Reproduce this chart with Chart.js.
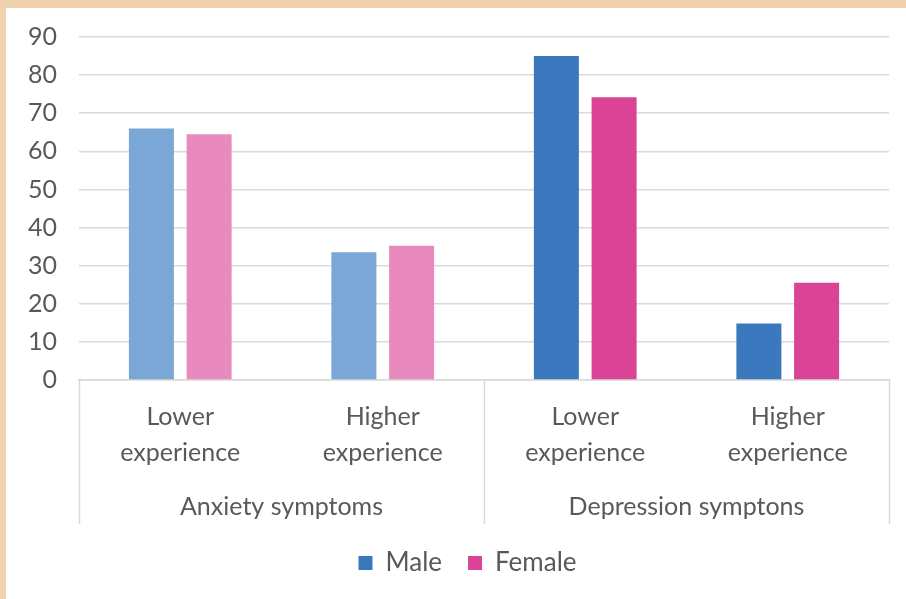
<!DOCTYPE html>
<html><head><meta charset="utf-8">
<script src="https://cdn.jsdelivr.net/npm/chart.js@4"></script>
<style>
html,body{margin:0;padding:0;background:#F0D2AE;width:906px;height:599px;overflow:hidden;}
#wrap{position:absolute;left:6px;top:8px;width:900px;height:591px;background:#fff;}
</style></head><body>
<div id="wrap"><canvas id="c" width="900" height="591"></canvas></div>
<script>
const categories = [["Lower","experience"],["Higher","experience"],["Lower","experience"],["Higher","experience"]];
const groups = ["Anxiety symptoms","Depression symptons"];
const seriesNames = ["Male","Female"];
const maleValues = [66, 33.5, 85, 14.8];
const femaleValues = [64.5, 35.2, 74.2, 25.5];
const yTicks = [0,10,20,30,40,50,60,70,80,90];

const maleColors = ["#7BA7D7","#7BA7D7","#3C78BD","#3C78BD"];
const femaleColors = ["#E88ABD","#E88ABD","#DB4496","#DB4496"];
const legendColors = ["#3C78BD","#DB4496"];
const FONT = "Lato, 'Open Sans', sans-serif";
const TXT = "#595959";

const separators = {
  id:'separators',
  afterDraw(chart){
    const x = chart.scales.x, x2 = chart.scales.x2, ctx = chart.ctx;
    const mid = (x.getPixelForValue(1)+x.getPixelForValue(2))/2;
    const top = chart.chartArea.bottom, bottom = x2.bottom;
    ctx.save();
    ctx.strokeStyle = "#D9D9D9"; ctx.lineWidth = 1.5;
    [x.left, mid, x.right].forEach(px=>{
      ctx.beginPath(); ctx.moveTo(Math.round(px)+0.5, top); ctx.lineTo(Math.round(px)+0.5, bottom); ctx.stroke();
    });
    ctx.restore();
  }
};

const legendShift = {
  id:'legendShift',
  afterLayout(chart){
    if (chart.legend) { chart.legend.left += 20; chart.legend.right += 20; }
  }
};

new Chart(document.getElementById('c'), {
  type:'bar',
  data:{
    labels: categories,
    datasets:[
      {label:seriesNames[0], data:maleValues, backgroundColor:maleColors, xAxisID:'x'},
      {label:seriesNames[1], data:femaleValues, backgroundColor:femaleColors, xAxisID:'x'}
    ]
  },
  options:{
    responsive:false, animation:false,
    categoryPercentage:0.57, barPercentage:0.78,
    layout:{padding:{left:0,right:17,top:29,bottom:13}},
    plugins:{
      tooltip:{enabled:false},
      legend:{
        position:'bottom',
        labels:{
          boxWidth:14, boxHeight:14, padding:26, color:TXT,
          font:{family:FONT,size:26},
          generateLabels(chart){
            return chart.data.datasets.map((d,i)=>({text:d.label, fillStyle:legendColors[i], strokeStyle:legendColors[i], lineWidth:0, datasetIndex:i, fontColor:TXT}));
          }
        }
      }
    },
    scales:{
      y:{
        min:0, max:90,
        afterBuildTicks(s){ s.ticks = yTicks.map(v=>({value:v})); },
        afterFit(s){ s.width = 73; s.paddingTop = 0; },
        grid:{color:"#D9D9D9", lineWidth:1.5, drawTicks:false},
        border:{display:false},
        ticks:{color:TXT, font:{family:FONT,size:25}, padding:22}
      },
      x:{
        position:'bottom',
        grid:{display:false},
        border:{display:true, color:"#D9D9D9", width:1.5},
        ticks:{color:TXT, font:{family:FONT,size:25, lineHeight:1.44}, padding:11, maxRotation:0}
      },
      x2:{
        type:'category', position:'bottom', labels:groups, offset:true,
        grid:{display:false}, border:{display:false},
        ticks:{color:TXT, font:{family:FONT,size:25}, padding:2, maxRotation:0}
      }
    }
  },
  plugins:[separators, legendShift]
});
</script>
</body></html>
